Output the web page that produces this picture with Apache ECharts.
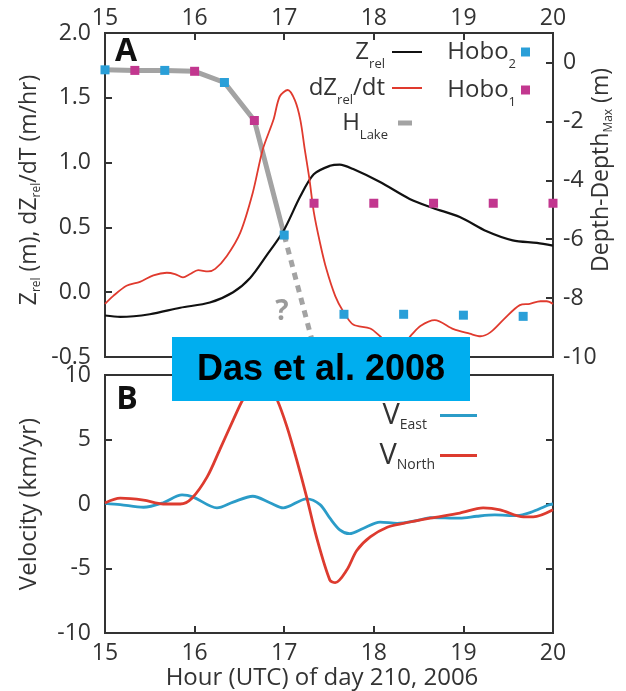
<!DOCTYPE html>
<html><head><meta charset="utf-8">
<script src="https://cdn.jsdelivr.net/npm/echarts@6/dist/echarts.min.js"></script>
<style>html,body{margin:0;padding:0;background:#fff}#c{width:626px;height:691px}</style>
</head><body><div id="c"></div>
<script>
// ---------- Panel A ----------
// Z_rel (m), left axis
const zrelHours  = [15.0,15.17,15.5,15.84,16.17,16.43,16.62,16.8,16.99,17.18,17.33,17.51,17.62,17.77,18.07,18.4,18.66,18.96,19.26,19.55,19.82,20.0];
const zrelValues = [-0.18,-0.19,-0.17,-0.12,-0.08,0.0,0.11,0.28,0.47,0.74,0.91,0.975,0.985,0.95,0.85,0.72,0.65,0.58,0.47,0.40,0.38,0.36];
// dZ_rel/dt (m/hr), left axis
const dzdtHours  = [15.0,15.09,15.24,15.39,15.54,15.69,15.78,15.87,15.95,16.04,16.15,16.23,16.36,16.51,16.65,16.76,16.88,16.95,17.04,17.12,17.18,17.23,17.28,17.33,17.4,17.47,17.57,17.66,17.77,17.96,18.07,18.2,18.3,18.42,18.52,18.68,18.89,19.07,19.19,19.3,19.45,19.63,19.74,19.86,19.93,20.0];
const dzdtValues = [-0.09,-0.03,0.05,0.08,0.13,0.15,0.14,0.115,0.14,0.17,0.16,0.18,0.28,0.46,0.77,1.1,1.33,1.51,1.56,1.48,1.33,1.1,0.88,0.62,0.38,0.18,-0.03,-0.15,-0.25,-0.28,-0.34,-0.42,-0.42,-0.33,-0.26,-0.215,-0.285,-0.32,-0.34,-0.31,-0.21,-0.10,-0.09,-0.07,-0.07,-0.09];
// H_Lake (Depth - Depth_Max, m), right axis
const hLakeHours = [15.0,15.333,15.667,16.0,16.333,16.667,17.0];
const hLakeDepth = [-0.25,-0.27,-0.27,-0.3,-0.68,-1.97,-5.86];
const hLakeGuessHours = [17.0,17.36];
const hLakeGuessDepth = [-5.86,-10.0];
// Hobo sensors (m), right axis
const hobo2Hours = [15.0,15.667,16.333,17.0,17.667,18.333,19.0,19.667];
const hobo2Depth = [-0.25,-0.27,-0.68,-5.86,-8.55,-8.55,-8.58,-8.62];
const hobo1Hours = [15.333,16.0,16.667,17.333,18.0,18.667,19.333,20.0];
const hobo1Depth = [-0.27,-0.3,-1.97,-4.78,-4.78,-4.78,-4.78,-4.78];
// ---------- Panel B ----------
const vEastHours  = [15.0,15.17,15.43,15.65,15.86,15.98,16.25,16.43,16.65,16.84,16.99,17.25,17.4,17.51,17.62,17.73,17.88,18.07,18.26,18.5,18.63,18.96,19.15,19.35,19.6,19.75,19.95,20.0];
const vEastValues = [0.05,-0.05,-0.25,0.1,0.7,0.55,-0.3,0.15,0.6,0.1,-0.3,0.4,-0.05,-1.1,-2.0,-2.3,-1.9,-1.4,-1.5,-1.25,-1.05,-1.1,-0.95,-0.85,-0.9,-0.65,-0.08,0.0];
const vNorthHours  = [15.0,15.17,15.43,15.65,15.84,15.97,16.14,16.28,16.43,16.54,16.65,16.74,16.84,16.92,17.03,17.14,17.25,17.36,17.51,17.57,17.7,17.81,17.96,18.15,18.33,18.63,18.96,19.22,19.41,19.67,19.78,20.0];
const vNorthValues = [0.08,0.45,0.3,0.0,0.0,0.45,2.1,4.2,6.5,8.1,9.1,9.4,9.0,8.1,6.0,3.4,0.55,-2.55,-5.9,-6.1,-5.1,-3.6,-2.55,-1.8,-1.5,-1.1,-0.7,-0.3,-0.45,-1.0,-1.0,-0.45];
// tick labels
const hourTicks = [15,16,17,18,19,20];
const zTicks = [-0.5,0.0,0.5,1.0,1.5,2.0];
const depthTicks = [0,-2,-4,-6,-8,-10];
const velocityTicks = [-10,-5,0,5,10];

const pairs = (xs, ys) => xs.map((x, i) => [x, ys[i]]);
const FF = '"Open Sans", "Noto Sans", sans-serif';
const TXT = '#333';
const lineAx = {show: true, onZero: false, lineStyle: {color: '#333', width: 2}};
const tickIn = {show: true, inside: true, length: 7, lineStyle: {color: '#333', width: 2}};
const lab = {fontFamily: FF, fontSize: 23, color: TXT};
const richTitle = {
  n: {fontFamily: FF, fontSize: 23, lineHeight: 28, color: TXT},
  s: {fontFamily: FF, fontSize: 12, lineHeight: 2, verticalAlign: 'bottom', color: TXT}
};
const richA = {
  n: {fontFamily: FF, fontSize: 24, lineHeight: 38, color: TXT},
  s: {fontFamily: FF, fontSize: 13, lineHeight: 2, verticalAlign: 'bottom', color: TXT}
};
const richB = {
  n: {fontFamily: FF, fontSize: 29, lineHeight: 34, color: TXT},
  s: {fontFamily: FF, fontSize: 14, lineHeight: 26, verticalAlign: 'bottom', color: TXT}
};
const legendText = {
  'Z_rel': '{n|Z}{s|rel}',
  'dZ_rel/dt': '{n|dZ}{s|rel}{n|/dt}',
  'H_Lake': '{n|H}{s|Lake}',
  'Hobo_2': '{n|Hobo}{s|2}',
  'Hobo_1': '{n|Hobo}{s|1}',
  'V_East': '{n|V}{s|East}',
  'V_North': '{n|V}{s|North}'
};
function leg(name, right, cy, w, h, rich, half, gap) {
  return {data: [name], orient: 'vertical', align: 'right', right: right, top: cy - half,
    itemWidth: w, itemHeight: h, itemGap: 0, padding: 0, selectedMode: false, icon: 'rect',
    formatter: n => legendText[n], textStyle: {rich: rich, padding: [0, gap, 0, 0]}};
}

const chart = echarts.init(document.getElementById('c'), null, {renderer: 'canvas'});
chart.setOption({
  animation: false,
  grid: [
    {left: 105, top: 33, width: 448, height: 324, show: true, borderColor: '#333', borderWidth: 2, containLabel: false, outerBoundsMode: 'none'},
    {left: 105, top: 375, width: 448, height: 258, show: true, borderColor: '#333', borderWidth: 2, containLabel: false, outerBoundsMode: 'none'}
  ],
  xAxis: [
    {gridIndex: 0, type: 'value', position: 'top', min: hourTicks[0], max: hourTicks[hourTicks.length - 1], interval: 1,
     axisLine: lineAx, axisTick: tickIn, splitLine: {show: false}, axisLabel: Object.assign({margin: 3}, lab)},
    {gridIndex: 1, type: 'value', position: 'bottom', min: hourTicks[0], max: hourTicks[hourTicks.length - 1], interval: 1,
     axisLine: lineAx, axisTick: tickIn, splitLine: {show: false}, axisLabel: Object.assign({margin: 9}, lab),
     name: 'Hour (UTC) of day 210, 2006', nameLocation: 'middle', nameGap: 26, nameMoveOverlap: false,
     nameTextStyle: {fontFamily: FF, fontSize: 24, lineHeight: 28, color: TXT, padding: [5, 14, 0, 0]}}
  ],
  yAxis: [
    {gridIndex: 0, type: 'value', position: 'left', min: zTicks[0], max: zTicks[zTicks.length - 1], interval: 0.5,
     axisLine: lineAx, axisTick: tickIn, splitLine: {show: false},
     axisLabel: Object.assign({margin: 14, formatter: v => v.toFixed(1)}, lab),
     name: '{n|Z}{s|rel}{n| (m), dZ}{s|rel}{n|/dT (m/hr)}', nameLocation: 'middle', nameGap: 62, nameMoveOverlap: false,
     nameTextStyle: {rich: richTitle, padding: [0, 0, 0, 10]}},
    {gridIndex: 0, type: 'value', position: 'right', min: depthTicks[depthTicks.length - 1], max: 1, interval: 2,
     axisLine: lineAx, axisTick: tickIn, splitLine: {show: false},
     axisLabel: Object.assign({margin: 10, showMaxLabel: false, formatter: v => (v > 0 ? '' : String(v))}, lab),
     name: '{n|Depth-Depth}{s|Max}{n| (m)}', nameLocation: 'middle', nameGap: 34, nameMoveOverlap: false,
     nameTextStyle: {rich: richTitle, padding: [0, 0, 0, 50]}},
    {gridIndex: 1, type: 'value', position: 'left', min: velocityTicks[0], max: velocityTicks[velocityTicks.length - 1], interval: 5,
     axisLine: lineAx, axisTick: tickIn, splitLine: {show: false}, axisLabel: Object.assign({margin: 14}, lab),
     name: 'Velocity (km/yr)', nameLocation: 'middle', nameGap: 62, nameMoveOverlap: false,
     nameTextStyle: {fontFamily: FF, fontSize: 24, lineHeight: 28, color: TXT}},
    {gridIndex: 1, type: 'value', position: 'right', min: velocityTicks[0], max: velocityTicks[velocityTicks.length - 1], interval: 5,
     axisLine: lineAx, axisTick: tickIn, splitLine: {show: false}, axisLabel: {show: false}}
  ],
  legend: [
    leg('Z_rel', 204, 59, 30, 2, richA, 19, 2),
    leg('dZ_rel/dt', 204, 95, 30, 2, richA, 19, 2),
    leg('H_Lake', 214, 130, 14, 5, richA, 19, 5),
    leg('Hobo_2', 96, 59, 9, 9, richA, 19, 0),
    leg('Hobo_1', 96, 97, 9, 9, richA, 19, 0),
    leg('V_East', 149, 418, 37, 3, richB, 17, 8),
    leg('V_North', 149, 458, 37, 3, richB, 17, 0)
  ],
  series: [
    {name: 'H_Lake', type: 'line', xAxisIndex: 0, yAxisIndex: 1, data: pairs(hLakeHours, hLakeDepth),
     symbol: 'none', lineStyle: {color: '#a3a3a3', width: 5}, itemStyle: {color: '#a3a3a3'}, z: 2},
    {name: 'H_Lake (extrapolated)', type: 'line', xAxisIndex: 0, yAxisIndex: 1, data: pairs(hLakeGuessHours, hLakeGuessDepth),
     symbol: 'none', lineStyle: {color: '#a3a3a3', width: 5, type: [7, 6]}, z: 2},
    {name: 'Z_rel', type: 'line', xAxisIndex: 0, yAxisIndex: 0, data: pairs(zrelHours, zrelValues), smooth: 0.3,
     symbol: 'none', lineStyle: {color: '#111', width: 2.2}, itemStyle: {color: '#111'}, z: 3},
    {name: 'dZ_rel/dt', type: 'line', xAxisIndex: 0, yAxisIndex: 0, data: pairs(dzdtHours, dzdtValues), smooth: 0.3,
     symbol: 'none', lineStyle: {color: '#e03a2e', width: 1.8}, itemStyle: {color: '#e03a2e'}, z: 3},
    {name: 'Hobo_2', type: 'scatter', xAxisIndex: 0, yAxisIndex: 1, data: pairs(hobo2Hours, hobo2Depth),
     symbol: 'rect', symbolSize: 9, itemStyle: {color: '#2a9fd8', opacity: 1}, z: 5},
    {name: 'Hobo_1', type: 'scatter', xAxisIndex: 0, yAxisIndex: 1, data: pairs(hobo1Hours, hobo1Depth),
     symbol: 'rect', symbolSize: 9, itemStyle: {color: '#c2378f', opacity: 1}, z: 5},
    {name: 'V_East', type: 'line', xAxisIndex: 1, yAxisIndex: 2, data: pairs(vEastHours, vEastValues), smooth: 0.3,
     symbol: 'none', lineStyle: {color: '#2b9cc8', width: 2.8}, itemStyle: {color: '#2b9cc8'}, z: 3},
    {name: 'V_North', type: 'line', xAxisIndex: 1, yAxisIndex: 2, data: pairs(vNorthHours, vNorthValues), smooth: 0.3,
     symbol: 'none', lineStyle: {color: '#dd3b2f', width: 2.8}, itemStyle: {color: '#dd3b2f'}, z: 4}
  ],
  graphic: [
    {type: 'text', x: 126, y: 52, z: 50, style: {text: 'A', font: 'bold 32px "Open Sans", sans-serif', fill: '#111', align: 'center', verticalAlign: 'middle'}},
    {type: 'text', x: 127, y: 400, z: 50, style: {text: 'B', font: 'bold 32px "Open Sans", sans-serif', fill: '#111', align: 'center', verticalAlign: 'middle'}},
    {type: 'text', x: 282, y: 312, z: 50, style: {text: '?', font: 'bold 28px "Open Sans", sans-serif', fill: '#9a9a9a', align: 'center', verticalAlign: 'middle'}},
    {type: 'rect', z: 100, shape: {x: 172, y: 337, width: 298, height: 64}, style: {fill: '#00aeef'}},
    {type: 'text', x: 321, y: 370, z: 101, style: {text: 'Das et al. 2008', font: 'bold 36px "Liberation Sans", Arial, sans-serif', fill: '#000', align: 'center', verticalAlign: 'middle'}}
  ]
});
</script></body></html>
